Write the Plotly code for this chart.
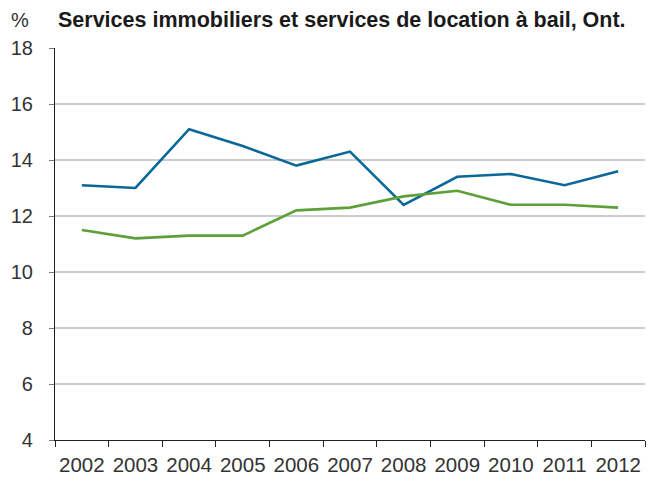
import plotly.graph_objects as go

years = ["2002", "2003", "2004", "2005", "2006", "2007", "2008", "2009", "2010", "2011", "2012"]
blue_values = [13.1, 13.0, 15.1, 14.5, 13.8, 14.3, 12.4, 13.4, 13.5, 13.1, 13.6]
green_values = [11.5, 11.2, 11.3, 11.3, 12.2, 12.3, 12.7, 12.9, 12.4, 12.4, 12.3]
y_ticks = [4, 6, 8, 10, 12, 14, 16, 18]

FONT = "Liberation Sans, Arial, sans-serif"

fig = go.Figure()
fig.add_trace(go.Scatter(x=years, y=blue_values, mode="lines",
                         line=dict(color="#0a6899", width=2.6), showlegend=False))
fig.add_trace(go.Scatter(x=years, y=green_values, mode="lines",
                         line=dict(color="#5da03a", width=2.6), showlegend=False))

# page body adds an 8px offset, margins compensate for it
fig.update_layout(
    width=662, height=478,
    margin=dict(l=47, r=25, t=40, b=46, autoexpand=False),
    plot_bgcolor="white", paper_bgcolor="white",
    font=dict(family=FONT, size=20, color="#333333"),
    xaxis=dict(
        type="category", tickson="boundaries",
        showline=True, linecolor="#222222", linewidth=1.2,
        ticks="outside", ticklen=6, tickcolor="#222222",
        ticklabelstandoff=6, tickangle=0,
        showgrid=False, tickfont=dict(size=20.5),
        range=[-0.5, 10.5],
    ),
    yaxis=dict(
        range=[4, 18], tickvals=y_ticks,
        showline=True, linecolor="#222222", linewidth=1.2,
        ticks="outside", ticklen=5, tickcolor="#777777",
        ticklabelstandoff=12,
        showgrid=True, gridcolor="#cccccc", gridwidth=1.5,
        zeroline=False, tickfont=dict(size=20),
    ),
)

fig.add_annotation(text="%", xref="paper", yref="paper", x=-0.059, y=1.071,
                   xanchor="center", yanchor="middle", showarrow=False,
                   font=dict(size=20))
fig.add_annotation(text="<b>Services immobiliers et services de location à bail, Ont.</b>",
                   xref="paper", yref="paper", x=0.487, y=1.071,
                   xanchor="center", yanchor="middle", showarrow=False,
                   font=dict(size=21.5, color="#1a1a1a"))

fig.write_html("out.html")
